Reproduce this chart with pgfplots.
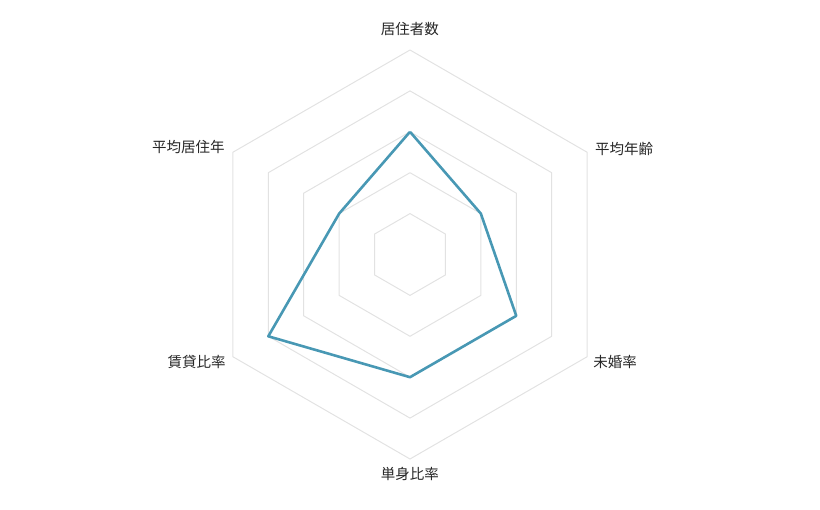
\documentclass[border=0pt]{standalone}
\usepackage{pgfplots}
\pgfplotsset{compat=1.18}
\usepgfplotslibrary{polar}
\usepackage{fontspec}
\setmainfont{Noto Sans CJK JP}
\definecolor{lineblue}{HTML}{4898B4}
\definecolor{gridgray}{HTML}{E2E2E2}
\tikzset{lab/.style={font=\fontsize{14.5pt}{17pt}\selectfont, inner sep=0pt, text=black!85}}
\begin{document}
\begin{tikzpicture}[x=1pt,y=1pt]
\useasboundingbox (0,0) rectangle (820,510);
\begin{polaraxis}[
    at={(410pt,255.5pt)}, anchor=origin,
    width=409pt, height=409pt, scale only axis,
    xmin=0, xmax=360,
    ymin=0, ymax=5,
    hide axis, clip=false,
]
    % hexagonal grid
    \pgfplotsinvokeforeach{1,2,3,4,5}{
    \addplot[gridgray, line width=1pt, mark=none]
        coordinates {(90,#1)(30,#1)(330,#1)(270,#1)(210,#1)(150,#1)(90,#1)};
    }

    % data
    \addplot[lineblue, line width=2.6pt, mark=none, line join=round]
        coordinates {(90,3)(30,2)(330,3)(270,3)(210,4)(150,2)(90,3)};

    % axis names
    \node[lab, anchor=center, yshift=21pt] at (axis cs:90,5) {居住者数};
    \node[lab, anchor=west, xshift=7.9pt, yshift=3.2pt] at (axis cs:30,5) {平均年齢};
    \node[lab, anchor=west, xshift=6pt, yshift=-5.2pt] at (axis cs:330,5) {未婚率};
    \node[lab, anchor=center, yshift=-15pt] at (axis cs:270,5) {単身比率};
    \node[lab, anchor=east, xshift=-7pt, yshift=-5.2pt] at (axis cs:210,5) {賃貸比率};
    \node[lab, anchor=east, xshift=-8pt, yshift=5.2pt] at (axis cs:150,5) {平均居住年};
\end{polaraxis}
\end{tikzpicture}
\end{document}
